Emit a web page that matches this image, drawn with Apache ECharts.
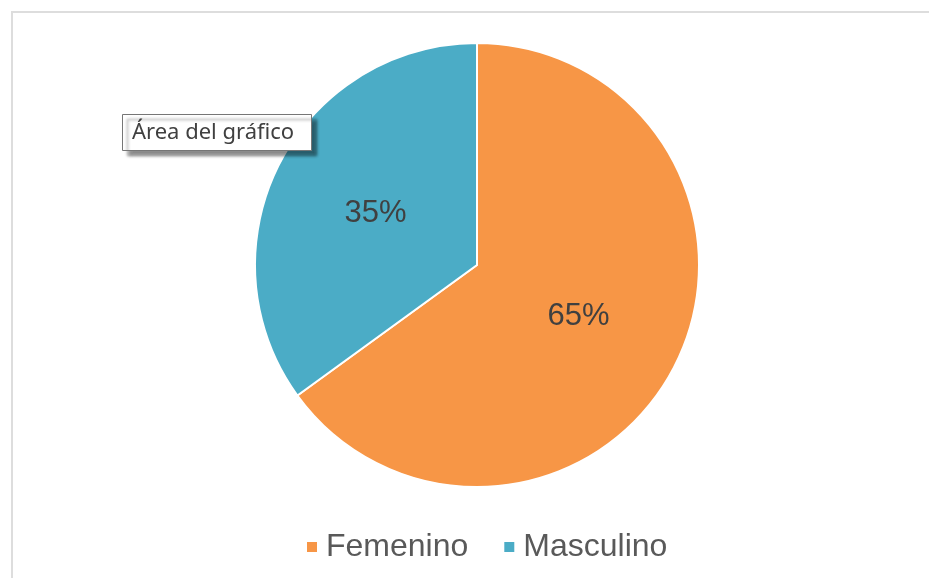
<!DOCTYPE html>
<html>
<head>
<meta charset="utf-8">
<script src="https://cdn.jsdelivr.net/npm/echarts@6/dist/echarts.min.js"></script>
<style>
  html, body { margin: 0; padding: 0; background: #fff; }
  #chart { width: 929px; height: 578px; }
</style>
</head>
<body>
<div id="chart"></div>
<script>
// datos del gráfico
var categories = ['Femenino', 'Masculino']
var values = [65, 35]
var colors = ['#F79646', '#4BACC6']

var chart = echarts.init(document.getElementById('chart'))

var option = {
  animation: false,
  color: colors,
  legend: {
    top: 526,
    left: 300,
    icon: 'rect',
    itemWidth: 12,
    itemHeight: 12,
    itemGap: 34,
    data: categories,
    textStyle: {
      fontFamily: 'Liberation Sans, Arial, sans-serif',
      fontSize: 32,
      color: '#595959',
      padding: [0, 0, 0, 3]
    }
  },
  graphic: [
    {
      // borde del área del gráfico
      type: 'rect',
      silent: true,
      z: 0,
      shape: { x: 12, y: 12, width: 1000, height: 1000 },
      style: { fill: null, stroke: '#dddddd', lineWidth: 2 }
    },
    {
      type: 'rect',
      z: 101,
      shape: { x: 122.5, y: 114.5, width: 189, height: 36 },
      style: {
        fill: '#ffffff',
        stroke: '#767676',
        lineWidth: 1,
        shadowBlur: 3,
        shadowOffsetX: 5,
        shadowOffsetY: 5,
        shadowColor: 'rgba(0,0,0,0.45)'
      }
    },
    {
      type: 'text',
      z: 102,
      x: 132,
      y: 133,
      style: {
        text: 'Área del gráfico',
        fontFamily: 'Noto Sans, sans-serif',
        fontSize: 22,
        fill: '#404040',
        verticalAlign: 'middle'
      }
    }
  ],
  series: [
    {
      type: 'pie',
      center: [477, 265],
      radius: 222,
      startAngle: 90,
      clockwise: true,
      itemStyle: {
        borderColor: '#ffffff',
        borderWidth: 2
      },
      label: {
        show: true,
        position: 'inside',
        formatter: '{d}%',
        fontFamily: 'Liberation Sans, Arial, sans-serif',
        fontSize: 31,
        color: '#404040'
      },
      labelLine: { show: false },
      emphasis: { disabled: true },
      data: categories.map(function (name, i) {
        return { name: name, value: values[i] }
      })
    }
  ]
}

chart.setOption(option)
</script>
</body>
</html>
